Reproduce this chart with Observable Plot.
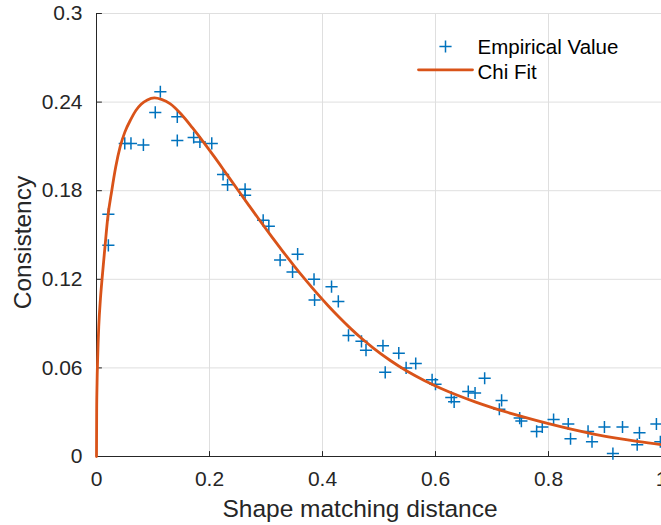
<!DOCTYPE html>
<html>
<head>
<meta charset="utf-8">
<script src="https://cdn.jsdelivr.net/npm/d3@7"></script>
<script src="https://cdn.jsdelivr.net/npm/@observablehq/plot@0.6"></script>
<style>
  html, body { margin: 0; padding: 0; background: white; }
  #chart { width: 661px; height: 525px; overflow: hidden; }
</style>
</head>
<body>
<div id="chart"></div>
<script>
// Empirical values (x = shape matching distance, y = consistency)
const empX = [0.021,0.021,0.050,0.061,0.083,0.104,0.113,0.143,0.143,0.172,0.183,0.204,0.224,0.232,0.263,0.263,0.295,0.305,0.325,0.347,0.356,0.385,0.386,0.416,0.428,0.446,0.469,0.477,0.507,0.511,0.535,0.548,0.565,0.594,0.600,0.628,0.633,0.658,0.670,0.687,0.713,0.717,0.749,0.752,0.779,0.789,0.809,0.835,0.839,0.870,0.877,0.899,0.914,0.931,0.957,0.961,0.991,0.998];
const empY = [0.143,0.164,0.212,0.212,0.211,0.233,0.247,0.230,0.214,0.216,0.213,0.212,0.191,0.184,0.181,0.177,0.160,0.156,0.133,0.125,0.137,0.120,0.106,0.115,0.105,0.082,0.078,0.072,0.075,0.057,0.070,0.060,0.063,0.052,0.049,0.040,0.037,0.044,0.043,0.053,0.032,0.038,0.026,0.024,0.017,0.020,0.025,0.022,0.012,0.017,0.010,0.020,0.002,0.020,0.008,0.016,0.022,0.010];

// Chi fit curve
const fitX = [0,0.0003,0.001,0.002,0.004,0.007,0.010,0.015,0.020,0.027,0.034,0.042,0.050,0.061,0.070,0.079,0.090,0.1025,0.115,0.13,0.15,0.17,0.19,0.21,0.23,0.25,0.27,0.29,0.31,0.33,0.35,0.37,0.39,0.41,0.43,0.45,0.47,0.49,0.52,0.55,0.58,0.61,0.64,0.67,0.70,0.73,0.76,0.80,0.84,0.88,0.92,0.96,1.00];
const fitY = [0,0.030,0.050,0.066,0.088,0.107,0.121,0.142,0.162,0.180,0.196,0.210,0.2195,0.2285,0.2345,0.2385,0.2415,0.2428,0.2418,0.2390,0.2318,0.2225,0.2126,0.2022,0.1914,0.1806,0.1699,0.1593,0.1489,0.1388,0.1290,0.1196,0.1106,0.1021,0.0941,0.0866,0.0797,0.0734,0.0650,0.0577,0.0515,0.0461,0.0413,0.0370,0.0331,0.0296,0.0263,0.0222,0.0185,0.0152,0.0124,0.0100,0.0080];

const xTicks = [0, 0.2, 0.4, 0.6, 0.8, 1];
const yTicks = [0, 0.06, 0.12, 0.18, 0.24, 0.3];
const seriesNames = ["Empirical Value", "Chi Fit"];
const xLabel = "Shape matching distance";
const yLabel = "Consistency";

const empirical = empX.map((x, i) => ({x, y: empY[i]}));
const fit = fitX.map((x, i) => ({x, y: fitY[i]}));

const blue = "#0072BD";
const orange = "#D95319";
const axisColor = "#262626";
const gridColor = "#dfdfdf";
const fmt = d3.format("~g");
const lineShape = {draw(c, l) { c.moveTo(0, 0); c.lineTo(0, -l); }};

const chart = Plot.plot({
  width: 661,
  height: 525,
  marginLeft: 96,
  marginRight: 0,
  marginTop: 13,
  marginBottom: 69,
  style: {fontFamily: "'Liberation Sans', Arial, Helvetica, sans-serif", background: "white", color: axisColor},
  x: {domain: [0, 1]},
  y: {domain: [0, 0.3]},
  marks: [
    Plot.gridX(xTicks, {stroke: gridColor, strokeOpacity: 1}),
    Plot.gridY(yTicks, {stroke: gridColor, strokeOpacity: 1}),
    Plot.axisX(xTicks, {tickSize: 0, tickPadding: 15, fontSize: 21, fill: axisColor, label: null, tickFormat: fmt}),
    Plot.axisY(yTicks, {tickSize: 0, tickPadding: 14, fontSize: 21, fill: axisColor, label: null, tickFormat: fmt}),
    Plot.ruleX([0], {stroke: axisColor, strokeWidth: 1}),
    Plot.ruleY([0], {stroke: axisColor, strokeWidth: 1}),
    Plot.vector(yTicks, {y: d => d, frameAnchor: "left", length: 5, rotate: 90, anchor: "start", shape: lineShape, stroke: axisColor, strokeWidth: 1}),
    Plot.vector(xTicks, {x: d => d, frameAnchor: "bottom", length: 5, rotate: 0, anchor: "start", shape: lineShape, stroke: axisColor, strokeWidth: 1}),
    Plot.dot(empirical, {x: "x", y: "y", symbol: "plus", r: 4, stroke: blue, strokeWidth: 1.5}),
    Plot.line(fit, {x: "x", y: "y", stroke: orange, strokeWidth: 2.8, curve: "monotone-x"}),
    // axis titles
    Plot.text([xLabel], {frameAnchor: "bottom", dx: -19, dy: 60, lineAnchor: "bottom", textAnchor: "middle", fontSize: 24.5, fill: axisColor}),
    Plot.text([yLabel], {frameAnchor: "left", dx: -66, dy: 7.5, rotate: -90, lineAnchor: "bottom", textAnchor: "middle", fontSize: 24.5, fill: axisColor}),
    // legend
    Plot.dot([{}], {x: null, y: null, frameAnchor: "top-left", dx: 349, dy: 33, symbol: "plus", r: 4, stroke: blue, strokeWidth: 1.5}),
    Plot.text([seriesNames[0]], {frameAnchor: "top-left", dx: 381, dy: 40.3, lineAnchor: "bottom", textAnchor: "start", fontSize: 20.5, fill: "#000"}),
    Plot.vector([{}], {x: null, y: null, frameAnchor: "top-left", dx: 322, dy: 56.3, length: 54, rotate: 90, anchor: "start", shape: lineShape, stroke: orange, strokeWidth: 2.8}),
    Plot.text([seriesNames[1]], {frameAnchor: "top-left", dx: 381, dy: 65.3, lineAnchor: "bottom", textAnchor: "start", fontSize: 20.5, fill: "#000"})
  ]
});
document.getElementById("chart").appendChild(chart);
</script>
</body>
</html>
